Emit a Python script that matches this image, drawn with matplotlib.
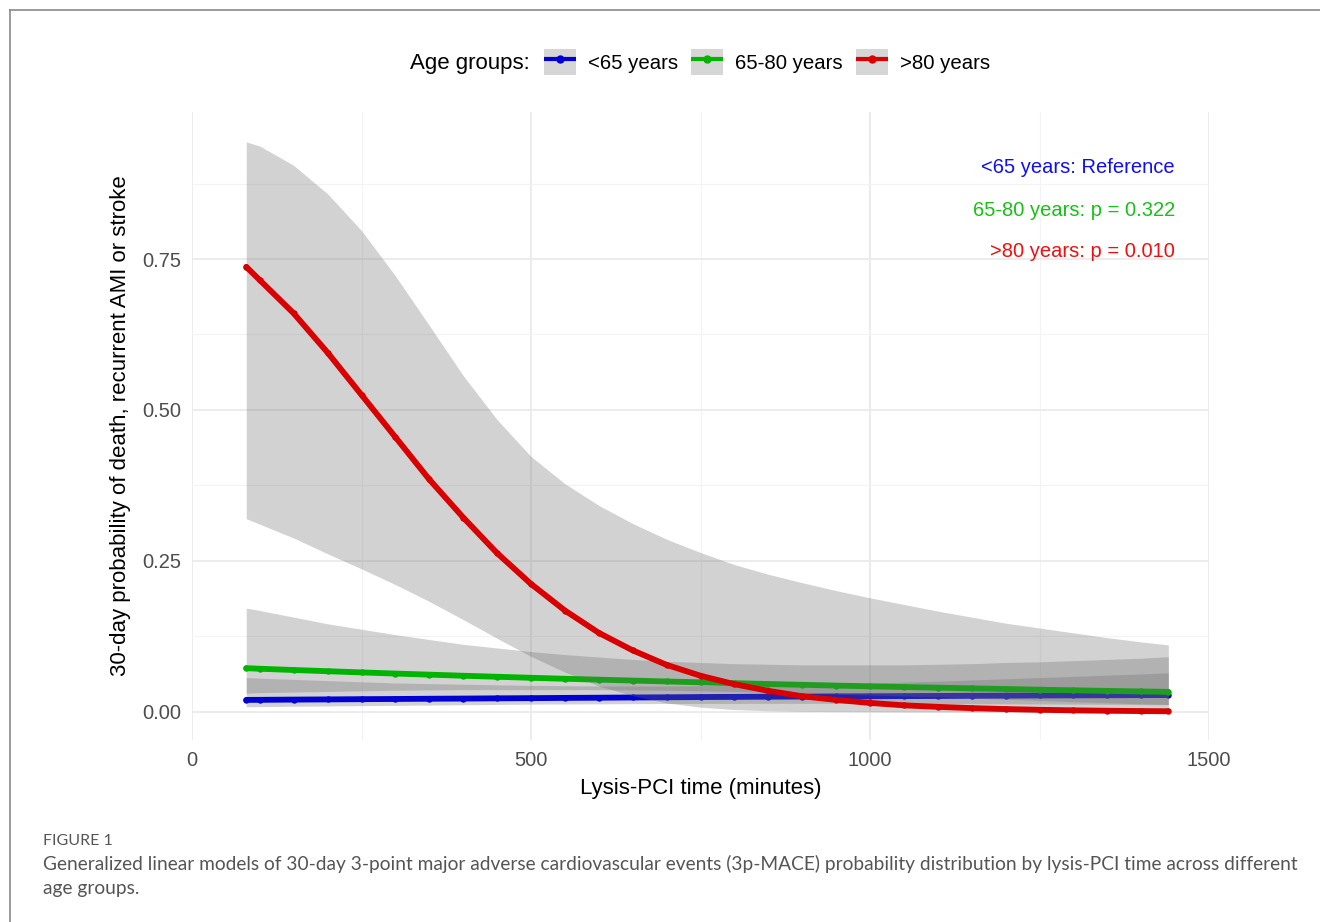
import matplotlib
matplotlib.use("Agg")
import matplotlib.pyplot as plt
from matplotlib.lines import Line2D
from matplotlib.patches import Patch
from matplotlib.legend_handler import HandlerTuple
from matplotlib.ticker import MultipleLocator

plt.rcParams['font.family'] = ['Liberation Sans', 'DejaVu Sans']

# lysis-PCI time (minutes)
minutes = [80, 100, 150, 200, 250, 300, 350, 400, 450, 500, 550, 600, 650, 700, 750,
           800, 850, 900, 950, 1000, 1050, 1100, 1150, 1200, 1250, 1300, 1350, 1400, 1440]

# <65 years
p_young = [0.0200, 0.0201, 0.0205, 0.0208, 0.0212, 0.0215, 0.0219, 0.0222, 0.0226, 0.0229,
           0.0233, 0.0236, 0.0240, 0.0243, 0.0247, 0.0250, 0.0253, 0.0255, 0.0258, 0.0260,
           0.0263, 0.0265, 0.0268, 0.0270, 0.0273, 0.0275, 0.0277, 0.0279, 0.0280]
lo_young = [0.0085, 0.0088, 0.0095, 0.0100, 0.0105, 0.0110, 0.0115, 0.0120, 0.0125, 0.0130,
            0.0133, 0.0135, 0.0138, 0.0140, 0.0141, 0.0142, 0.0143, 0.0143, 0.0143, 0.0142,
            0.0141, 0.0140, 0.0138, 0.0135, 0.0133, 0.0130, 0.0127, 0.0123, 0.0120]
hi_young = [0.057, 0.056, 0.054, 0.052, 0.050, 0.048, 0.047, 0.046, 0.045, 0.044,
            0.0435, 0.043, 0.043, 0.043, 0.0435, 0.044, 0.045, 0.046, 0.047, 0.048,
            0.0495, 0.051, 0.053, 0.055, 0.057, 0.059, 0.061, 0.063, 0.065]

# 65-80 years
p_mid = [0.0725, 0.0716, 0.0695, 0.0675, 0.0655, 0.0636, 0.0618, 0.0600, 0.0583, 0.0566,
         0.0550, 0.0535, 0.0520, 0.0505, 0.0491, 0.0477, 0.0463, 0.0450, 0.0437, 0.0425,
         0.0413, 0.0402, 0.0391, 0.0380, 0.0369, 0.0359, 0.0349, 0.0340, 0.0333]
lo_mid = [0.031, 0.032, 0.033, 0.034, 0.035, 0.036, 0.0365, 0.037, 0.037, 0.037,
          0.037, 0.037, 0.0365, 0.036, 0.035, 0.034, 0.0325, 0.031, 0.0295, 0.028,
          0.0265, 0.025, 0.023, 0.021, 0.019, 0.017, 0.0153, 0.0135, 0.0125]
hi_mid = [0.172, 0.168, 0.157, 0.146, 0.137, 0.128, 0.120, 0.112, 0.106, 0.100,
          0.095, 0.091, 0.087, 0.084, 0.082, 0.080, 0.079, 0.078, 0.078, 0.078,
          0.078, 0.079, 0.080, 0.082, 0.083, 0.085, 0.087, 0.089, 0.0916]

# >80 years
p_old = [0.737, 0.715, 0.660, 0.595, 0.525, 0.455, 0.385, 0.322, 0.263, 0.212,
         0.168, 0.131, 0.102, 0.078, 0.060, 0.046, 0.035, 0.026, 0.020, 0.015,
         0.011, 0.0085, 0.0064, 0.0048, 0.0036, 0.0027, 0.0020, 0.0015, 0.0012]
lo_old = [0.320, 0.311, 0.288, 0.262, 0.237, 0.211, 0.183, 0.153, 0.122, 0.092,
          0.066, 0.043, 0.027, 0.015, 0.008, 0.004, 0.002, 0.001, 0.0006, 0.0004,
          0.0002, 0.0001, 0.0001, 0.0, 0.0, 0.0, 0.0, 0.0, 0.0]
hi_old = [0.944, 0.937, 0.905, 0.858, 0.797, 0.722, 0.640, 0.557, 0.484, 0.423,
          0.378, 0.342, 0.312, 0.286, 0.264, 0.244, 0.228, 0.214, 0.201, 0.189,
          0.178, 0.167, 0.157, 0.147, 0.139, 0.131, 0.123, 0.116, 0.111]

groups = ['<65 years', '65-80 years', '>80 years']
line_colors = ['#0000d2', '#00b400', '#d80000']
text_colors = ['#1010ee', '#18c018', '#ee1010']
notes = ['<65 years: Reference', '65-80 years: p = 0.322', '>80 years: p = 0.010']
note_y = [0.901, 0.831, 0.762]

fig = plt.figure(figsize=(13.2, 9.22), dpi=100)
ax = fig.add_axes([192 / 1320, 1 - 740 / 922, 1017 / 1320, 628 / 922])

series = [(p_young, lo_young, hi_young), (p_mid, lo_mid, hi_mid), (p_old, lo_old, hi_old)]
for (fit, lo, hi), col in zip(series, line_colors):
    ax.fill_between(minutes, lo, hi, color='#6b6b6b', alpha=0.3, lw=0, zorder=2)
    ax.plot(minutes, fit, color=col, lw=4.2, marker='o', ms=4.6, mec=col, mew=0,
            solid_capstyle='round', solid_joinstyle='round', zorder=2)

for txt, y, c in zip(notes, note_y, text_colors):
    ax.text(1450, y, txt, color=c, fontsize=14.5, ha='right', va='center')

ax.set_xlim(0, 1500)
ax.set_ylim(-0.0464, 0.9934)
ax.xaxis.set_major_locator(MultipleLocator(500))
ax.xaxis.set_minor_locator(MultipleLocator(250))
ax.yaxis.set_major_locator(MultipleLocator(0.25))
ax.yaxis.set_minor_locator(MultipleLocator(0.125))
ax.set_yticks([0, 0.25, 0.5, 0.75])
ax.set_yticklabels(['0.00', '0.25', '0.50', '0.75'])
ax.grid(True, which='major', color='#ebebeb', lw=1.3, zorder=0)
ax.grid(True, which='minor', color='#f3f3f3', lw=0.8, zorder=0)
ax.set_axisbelow(True)
for s in ax.spines.values():
    s.set_visible(False)
ax.tick_params(which='both', length=0, labelsize=14.5, labelcolor='#4d4d4d', pad=8)
ax.set_xlabel('Lysis-PCI time (minutes)', fontsize=16, labelpad=6)
ax.set_ylabel('30-day probability of death, recurrent AMI or stroke', fontsize=16, labelpad=8)

# legend on top
handles = []
for col in line_colors:
    handles.append((Patch(facecolor='#d6d6d6', edgecolor='none'),
                    Line2D([], [], color=col, lw=3, marker='o', ms=5, solid_capstyle='butt')))
fig.text(410 / 1320, 1 - 63 / 922, 'Age groups:', fontsize=16, ha='left', va='center')
fig.legend(handles, groups, handler_map={tuple: HandlerTuple(ndivide=1, pad=0)},
           loc='center left', bbox_to_anchor=(544 / 1320, 1 - 62 / 922), ncol=3,
           frameon=False, fontsize=14.7, handlelength=1.57, handleheight=1.57,
           handletextpad=0.59, columnspacing=0.64, borderpad=0, borderaxespad=0)

# frame of the figure page
fig.add_artist(Line2D([9.5 / 1320, 9.5 / 1320], [0, 1 - 10.5 / 922], color='#8a8a8a', lw=1.2))
fig.add_artist(Line2D([9.5 / 1320, 1], [1 - 10.5 / 922, 1 - 10.5 / 922], color='#8a8a8a', lw=1.2))

# caption
fig.text(43 / 1320, 1 - 841 / 922, 'FIGURE 1', fontsize=11.5, color='#555555',
         family=['Lato', 'DejaVu Sans'], ha='left', va='center')
cap1 = fig.text(43 / 1320, 1 - 864 / 922,
                'Generalized linear models of 30-day 3-point major adverse cardiovascular events '
                '(3p-MACE) probability distribution by lysis-PCI time across different',
                fontsize=13, color='#555555', family=['Lato', 'DejaVu Sans'],
                ha='left', va='center')
cap2 = fig.text(43 / 1320, 1 - 888 / 922, 'age groups.', fontsize=13, color='#555555',
                family=['Lato', 'DejaVu Sans'], ha='left', va='center')
fig.canvas.draw()
w = cap1.get_window_extent().width
fs = 13 * 1255 / w
cap1.set_fontsize(fs)
cap2.set_fontsize(fs)

fig.savefig('out.png', dpi=100)
